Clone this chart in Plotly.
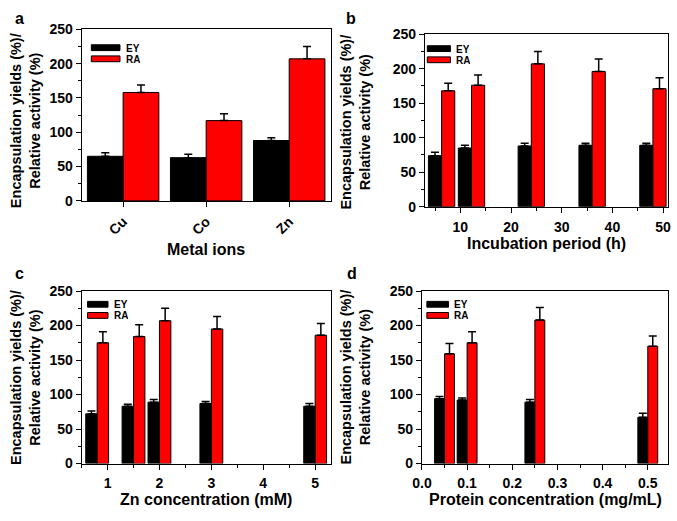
import plotly.graph_objects as go

# ---------------- data ----------------
# Panel a: metal ions
a_cats = ["Cu", "Co", "Zn"]
a_ey = [65, 63, 88]
a_ey_err = [5, 5, 4]
a_ra = [158, 117, 207]
a_ra_err = [11, 10, 18]

# Panel b: incubation period (h)
b_x = [6.3, 12.2, 24, 36, 48]
b_ey = [74, 85, 88, 89, 89]
b_ey_err = [5, 4, 4, 3, 3]
b_ra = [168, 176, 207, 196, 171]
b_ra_err = [11, 15, 18, 18, 16]

# Panel c: Zn concentration (mM)
c_x = [0.8, 1.5, 2, 3, 5]
c_ey = [72, 83, 89, 87, 83]
c_ey_err = [4, 3, 4, 3, 4]
c_ra = [175, 184, 207, 195, 186]
c_ra_err = [16, 17, 18, 18, 17]

# Panel d: protein concentration (mg/mL)
d_x = [0.05, 0.1, 0.25, 0.5]
d_ey = [94, 92, 89, 67]
d_ey_err = [3, 3, 4, 6]
d_ra = [159, 175, 208, 170]
d_ra_err = [15, 16, 18, 15]

y_ticks = [0, 50, 100, 150, 200, 250]
x_titles = ["Metal ions", "Incubation period (h)", "Zn concentration (mM)",
            "Protein concentration (mg/mL)"]
y_title = "Encapsulation yields (%)/<br>Relative activity (%)"
panel_letters = ["a", "b", "c", "d"]
series_names = ["EY", "RA"]

# ---------------- styling ----------------
FONT = "Arial, Liberation Sans, sans-serif"
BLACK = "#000000"
RED = "#ff0000"
W, H = 677, 521

fig = go.Figure()

panels = [
    dict(x=a_cats, ey=a_ey, eye=a_ey_err, ra=a_ra, rae=a_ra_err, w=0.43),
    dict(x=b_x, ey=b_ey, eye=b_ey_err, ra=b_ra, rae=b_ra_err, w=2.6),
    dict(x=c_x, ey=c_ey, eye=c_ey_err, ra=c_ra, rae=c_ra_err, w=0.22),
    dict(x=d_x, ey=d_ey, eye=d_ey_err, ra=d_ra, rae=d_ra_err, w=0.022),
]

for i, p in enumerate(panels):
    sfx = "" if i == 0 else str(i + 1)
    for name, vals, errs, col, off in [
        (series_names[0], p["ey"], p["eye"], BLACK, -p["w"]),
        (series_names[1], p["ra"], p["rae"], RED, 0),
    ]:
        fig.add_trace(go.Bar(
            x=p["x"], y=vals, name=name, width=p["w"], offset=off,
            marker=dict(color=col, line=dict(color=BLACK, width=1)),
            error_y=dict(type="data", array=errs, arrayminus=[0] * len(errs),
                         symmetric=False, color=BLACK, thickness=1.5, width=4),
            xaxis="x" + sfx, yaxis="y" + sfx, showlegend=False,
        ))

# pixel-based domains
def xd(l, r):
    return [l / W, r / W]

def yd(t, b):
    return [1 - b / H, 1 - t / H]

domains = [
    (xd(73, 327), yd(22, 199)),
    (xd(423, 671), yd(27, 205)),
    (xd(73, 327), yd(292, 470)),
    (xd(420, 671), yd(292, 470)),
]

tickfont = dict(family=FONT, size=14, color=BLACK, weight="bold")
common_axis = dict(showline=True, linecolor=BLACK, linewidth=1, mirror=True,
                   ticks="outside", ticklen=5, tickwidth=1, tickcolor=BLACK,
                   showgrid=False, zeroline=False, tickfont=tickfont)

x_specs = [
    dict(type="category", range=[-0.5, 2.5], tickangle=-45, ticklabelstandoff=1),
    dict(range=[3, 51], tickmode="linear", tick0=0, dtick=10, ticklabelstandoff=2,
         minor=dict(dtick=5, ticks="outside", ticklen=3, tickcolor=BLACK)),
    dict(range=[0.5, 5.3], tickmode="linear", tick0=0, dtick=1, ticklabelstandoff=2,
         minor=dict(dtick=0.5, ticks="outside", ticklen=3, tickcolor=BLACK)),
    dict(range=[0, 0.545], tickmode="linear", tick0=0, dtick=0.1, tickformat=".1f",
         ticklabelstandoff=2,
         minor=dict(dtick=0.05, ticks="outside", ticklen=3, tickcolor=BLACK)),
]

layout = dict(width=W, height=H, margin=dict(l=0, r=0, t=0, b=0),
              paper_bgcolor="white", plot_bgcolor="white", barmode="overlay",
              showlegend=False)

for i in range(4):
    sfx = "" if i == 0 else str(i + 1)
    xa = dict(common_axis, domain=domains[i][0], anchor="y" + sfx, **x_specs[i])
    ya = dict(common_axis, domain=domains[i][1], anchor="x" + sfx,
              range=[0, 250], tickvals=y_ticks,
              minor=dict(dtick=25, ticks="outside", ticklen=3, tickcolor=BLACK))
    layout["xaxis" + sfx] = xa
    layout["yaxis" + sfx] = ya

fig.update_layout(**layout)

# ---------------- annotations: titles, panel letters, legends ----------------
title_font = dict(family=FONT, size=16, color=BLACK, weight="bold")
ytitle_font = dict(family=FONT, size=14.5, color=BLACK, weight="bold")

xtitle_y = [249, 243, 507, 507]
ytitle_pos = [(16, 116), (352, 118), (16, 381), (352, 381)]
letter_pos = [(10, 11), (348, 11), (10, 274), (349, 274)]
legend_boxes = [  # (x0,x1) in x-domain, y top of black swatch in domain
    (0.039, 0.154, 0.910),
    (0.010, 0.105, 0.933),
    (0.024, 0.106, 0.940),
    (0.020, 0.108, 0.940),
]

for i in range(4):
    sfx = "" if i == 0 else str(i + 1)
    dx = domains[i][0]
    fig.add_annotation(text=x_titles[i], xref="paper", yref="paper",
                       x=(dx[0] + dx[1]) / 2, y=1 - xtitle_y[i] / H,
                       showarrow=False, font=title_font,
                       xanchor="center", yanchor="middle")
    fig.add_annotation(text=y_title, xref="paper", yref="paper",
                       x=ytitle_pos[i][0] / W, y=1 - ytitle_pos[i][1] / H,
                       textangle=-90, showarrow=False, font=ytitle_font,
                       xanchor="center", yanchor="middle")
    fig.add_annotation(text=panel_letters[i], xref="paper", yref="paper",
                       x=letter_pos[i][0] / W, y=1 - letter_pos[i][1] / H,
                       showarrow=False, font=dict(family=FONT, size=16, color=BLACK, weight="bold"),
                       xanchor="center", yanchor="middle")
    x0, x1, ytop = legend_boxes[i]
    hdom = (domains[i][1][1] - domains[i][1][0]) * H
    sw_h = 6 / hdom
    gap = 11.5 / hdom
    for k, (nm, col) in enumerate(zip(series_names, [BLACK, RED])):
        yt = ytop - k * gap
        fig.add_shape(type="rect", xref="x" + sfx + " domain", yref="y" + sfx + " domain",
                      x0=x0, x1=x1, y0=yt - sw_h, y1=yt,
                      fillcolor=col, line=dict(color=BLACK, width=1))
        fig.add_annotation(text=nm, xref="x" + sfx + " domain", yref="y" + sfx + " domain",
                           x=x1 + 0.02, y=yt - sw_h / 2, showarrow=False,
                           xanchor="left", yanchor="middle", height=10, borderpad=0,
                           font=dict(family=FONT, size=10, color=BLACK, weight="bold"))

fig.write_html("out.html", config={"displayModeBar": False},
               post_script="document.body.style.margin='0px';")
